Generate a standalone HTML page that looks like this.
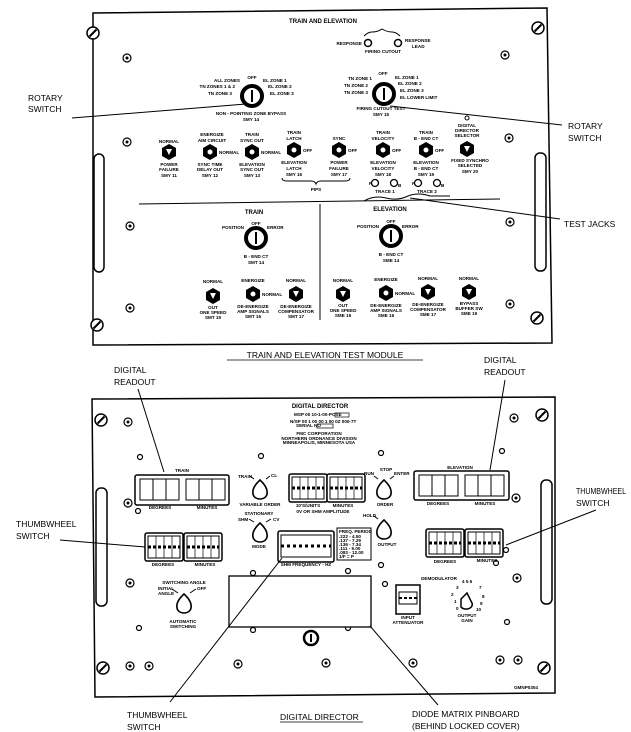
<!DOCTYPE html>
<html><head><meta charset="utf-8"><style>
html,body{margin:0;padding:0;background:#fff}
svg{display:block}
text{font-family:"Liberation Sans",sans-serif;font-weight:bold;fill:#000}
.t{font-size:4.6px}
.m{font-size:6px}
.L{font-size:8.5px;font-weight:normal}
</style></head><body>
<svg width="631" height="732" viewBox="0 0 631 732" xmlns="http://www.w3.org/2000/svg">
<defs>
<g id="sc"><circle r="4" fill="#fff" stroke="#000" stroke-width="1.2"/><circle r="1.5" fill="#000"/></g>
<g id="sl"><circle r="6" fill="#fff" stroke="#000" stroke-width="1.5"/><line x1="-3.5" y1="3.5" x2="3.5" y2="-3.5" stroke="#000" stroke-width="2"/></g>
<g id="hx"><polygon points="0,-8 7,-4 7,4 0,8 -7,4 -7,-4" fill="#000"/><circle r="3" fill="#fff" stroke="#000"/></g>
<g id="hv"><polygon points="0,-8 7,-4 7,4 0,8 -7,4 -7,-4" fill="#000"/><path d="M-3,-3 L0,3 L3,-3 Z" fill="#fff"/></g>
<g id="rot"><circle r="10" fill="#fff" stroke="#000" stroke-width="4"/><line x1="0" y1="-6" x2="0" y2="6" stroke="#000" stroke-width="2"/></g>
<g id="td"><path d="M0,-9 C-11,1 -8,10 0,10 C8,10 11,1 0,-9 Z" fill="#fff" stroke="#000" stroke-width="1.6"/></g>
<g id="tw"><rect x="0" y="0" width="38" height="28" rx="2" fill="#fff" stroke="#000" stroke-width="1.5"/><rect x="3" y="3" width="32" height="22" fill="none" stroke="#000"/><line x1="3" y1="14" x2="35" y2="14" stroke="#000" stroke-width="3" stroke-dasharray="3,2"/><line x1="11" y1="3" x2="11" y2="25" stroke="#000" stroke-width=".7"/><line x1="19" y1="3" x2="19" y2="25" stroke="#000" stroke-width=".7"/><line x1="27" y1="3" x2="27" y2="25" stroke="#000" stroke-width=".7"/></g>
</defs>

<polygon points="93,13 547,8 552,343 93,345" fill="#fff" stroke="#000" stroke-width="1.5"/>
<text x="323" y="23" class="m" text-anchor="middle" font-size="7">TRAIN AND ELEVATION</text>
<use href="#sl" x="93" y="33"/><use href="#sl" x="538" y="28"/><use href="#sl" x="97" y="325"/><use href="#sl" x="537" y="318"/>
<use href="#sc" x="127" y="58"/><use href="#sc" x="505" y="55"/><use href="#sc" x="127" y="142"/><use href="#sc" x="509" y="138"/>
<use href="#sc" x="130" y="226"/><use href="#sc" x="510" y="222"/><use href="#sc" x="130" y="308"/><use href="#sc" x="510" y="304"/>
<rect x="94" y="154" width="10" height="118" rx="5" fill="#fff" stroke="#000" stroke-width="1.5"/>
<rect x="535" y="153" width="11" height="118" rx="5" fill="#fff" stroke="#000" stroke-width="1.5"/>

<path d="M364,36 q4,-4 8,-4 q5,0 10,-3 q5,3 10,3 q4,0 8,4" fill="none" stroke="#000"/>
<circle cx="368" cy="43" r="3.5" fill="#fff" stroke="#000" stroke-width="1.5"/><circle cx="398" cy="43" r="3.5" fill="#fff" stroke="#000" stroke-width="1.5"/>
<text x="362" y="45" class="t" text-anchor="end">RESPONSE</text><text x="405" y="42" class="t">RESPONSE</text><text x="412" y="48" class="t">LEAD</text>
<text x="383" y="53" class="t" text-anchor="middle">FIRING CUTOUT</text>

<use href="#rot" x="252" y="96"/>
<text x="252" y="79" class="t" text-anchor="middle">OFF</text>
<text x="240" y="82" class="t" text-anchor="end">ALL ZONES</text><text x="235" y="88" class="t" text-anchor="end">TN ZONES 1 &amp; 2</text><text x="232" y="95" class="t" text-anchor="end">TN ZONE 3</text>
<text x="263" y="82" class="t">EL ZONE 1</text><text x="268" y="88" class="t">EL ZONE 2</text><text x="270" y="95" class="t">EL ZONE 3</text>
<text x="251" y="115" class="t" text-anchor="middle">NON - POINTING ZONE BYPASS</text><text x="251" y="121" class="t" text-anchor="middle">SMY 14</text>
<use href="#rot" x="384" y="94"/>
<text x="383" y="75" class="t" text-anchor="middle">OFF</text>
<text x="372" y="80" class="t" text-anchor="end">TN ZONE 1</text><text x="368" y="87" class="t" text-anchor="end">TN ZONE 2</text><text x="368" y="94" class="t" text-anchor="end">TN ZONE 3</text>
<text x="395" y="79" class="t">EL ZONE 1</text><text x="398" y="85" class="t">EL ZONE 2</text><text x="400" y="92" class="t">EL ZONE 3</text><text x="400" y="99" class="t">EL LOWER LIMIT</text>
<text x="381" y="110" class="t" text-anchor="middle">FIRING CUTOUT TEST</text><text x="381" y="116" class="t" text-anchor="middle">SMY 15</text>

<use href="#hv" x="169" y="152"/><text x="169" y="143" class="t" text-anchor="middle">NORMAL</text>
<text x="169" y="166" class="t" text-anchor="middle">POWER</text><text x="169" y="171" class="t" text-anchor="middle">FAILURE</text><text x="169" y="177" class="t" text-anchor="middle">SMY 11</text>
<use href="#hx" x="210" y="152"/><text x="212" y="136" class="t" text-anchor="middle">ENERGIZE</text><text x="212" y="142" class="t" text-anchor="middle">AIM CIRCUIT</text><text x="219" y="154" class="t">NORMAL</text>
<text x="210" y="166" class="t" text-anchor="middle">SYNC TIME</text><text x="210" y="171" class="t" text-anchor="middle">DELAY OUT</text><text x="210" y="177" class="t" text-anchor="middle">SMY 12</text>
<use href="#hx" x="252" y="152"/><text x="252" y="136" class="t" text-anchor="middle">TRAIN</text><text x="252" y="142" class="t" text-anchor="middle">SYNC OUT</text><text x="261" y="154" class="t">NORMAL</text>
<text x="252" y="166" class="t" text-anchor="middle">ELEVATION</text><text x="252" y="171" class="t" text-anchor="middle">SYNC OUT</text><text x="252" y="177" class="t" text-anchor="middle">SMY 13</text>
<use href="#hx" x="294" y="150"/><text x="294" y="134" class="t" text-anchor="middle">TRAIN</text><text x="294" y="140" class="t" text-anchor="middle">LATCH</text><text x="303" y="152" class="t">OFF</text>
<text x="294" y="164" class="t" text-anchor="middle">ELEVATION</text><text x="294" y="170" class="t" text-anchor="middle">LATCH</text><text x="294" y="176" class="t" text-anchor="middle">SMY 16</text>
<use href="#hx" x="339" y="150"/><text x="339" y="140" class="t" text-anchor="middle">SYNC</text><text x="348" y="152" class="t">OFF</text>
<text x="339" y="164" class="t" text-anchor="middle">POWER</text><text x="339" y="170" class="t" text-anchor="middle">FAILURE</text><text x="339" y="176" class="t" text-anchor="middle">SMY 17</text>
<path d="M282,178 q0,3 5,3 l24,0 q4,0 5,3 q1,-3 5,-3 l24,0 q5,0 5,-3" fill="none" stroke="#000"/><text x="316" y="191" class="t" text-anchor="middle">PIPS</text>
<use href="#hx" x="383" y="150"/><text x="383" y="134" class="t" text-anchor="middle">TRAIN</text><text x="383" y="140" class="t" text-anchor="middle">VELOCITY</text><text x="392" y="152" class="t">OFF</text>
<text x="383" y="164" class="t" text-anchor="middle">ELEVATION</text><text x="383" y="170" class="t" text-anchor="middle">VELOCITY</text><text x="383" y="176" class="t" text-anchor="middle">SMY 18</text>
<use href="#hx" x="426" y="150"/><text x="426" y="134" class="t" text-anchor="middle">TRAIN</text><text x="426" y="140" class="t" text-anchor="middle">B - END CT</text><text x="435" y="152" class="t">OFF</text>
<text x="426" y="164" class="t" text-anchor="middle">ELEVATION</text><text x="426" y="170" class="t" text-anchor="middle">B - END CT</text><text x="426" y="176" class="t" text-anchor="middle">SMY 19</text>
<use href="#hv" x="467" y="149"/><circle cx="467" cy="118" r="2" fill="#fff" stroke="#000"/>
<text x="467" y="127" class="t" text-anchor="middle">DIGITAL</text><text x="467" y="132" class="t" text-anchor="middle">DIRECTOR</text><text x="467" y="137" class="t" text-anchor="middle">SELECTOR</text>
<text x="470" y="162" class="t" text-anchor="middle">FIXED SYNCHRO</text><text x="470" y="167" class="t" text-anchor="middle">SELECTED</text><text x="470" y="173" class="t" text-anchor="middle">SMY 20</text>
<g fill="#fff" stroke="#000" stroke-width="1.3"><circle cx="375" cy="183" r="3.5"/><circle cx="394" cy="183" r="3.5"/><circle cx="418" cy="183" r="3.5"/><circle cx="437" cy="183" r="3.5"/></g>
<text x="369" y="185" class="t">R</text><text x="398" y="187" class="t">B</text><text x="412" y="185" class="t">R</text><text x="441" y="187" class="t">B</text>
<text x="385" y="193" class="t" text-anchor="middle">TRACE 1</text><text x="427" y="193" class="t" text-anchor="middle">TRACE 2</text>
<path d="M364,201 q10,-6 22,-3 q12,3 22,-2 q10,-4 22,0 l20,0" fill="none" stroke="#000"/>

<line x1="139" y1="204" x2="500" y2="199" stroke="#000" stroke-width="1"/>
<line x1="320" y1="204" x2="320" y2="320" stroke="#000"/>
<text x="254" y="214" class="m" text-anchor="middle" font-size="7">TRAIN</text>
<text x="390" y="211" class="m" text-anchor="middle" font-size="7">ELEVATION</text>
<use href="#rot" x="256" y="238"/><text x="256" y="225" class="t" text-anchor="middle">OFF</text>
<text x="244" y="229" class="t" text-anchor="end">POSITION</text><text x="267" y="229" class="t">ERROR</text>
<text x="256" y="258" class="t" text-anchor="middle">B - END CT</text><text x="256" y="264" class="t" text-anchor="middle">SMT 14</text>
<use href="#rot" x="391" y="236"/><text x="391" y="223" class="t" text-anchor="middle">OFF</text>
<text x="379" y="228" class="t" text-anchor="end">POSITION</text><text x="402" y="228" class="t">ERROR</text>
<text x="391" y="256" class="t" text-anchor="middle">B - END CT</text><text x="391" y="262" class="t" text-anchor="middle">SME 14</text>

<use href="#hv" x="213" y="296"/><text x="213" y="283" class="t" text-anchor="middle">NORMAL</text><text x="213" y="309" class="t" text-anchor="middle">OUT</text><text x="213" y="314" class="t" text-anchor="middle">ONE SPEED</text><text x="213" y="319" class="t" text-anchor="middle">SMT 15</text>
<use href="#hx" x="253" y="294"/><text x="253" y="282" class="t" text-anchor="middle">ENERGIZE</text><text x="262" y="296" class="t">NORMAL</text><text x="253" y="308" class="t" text-anchor="middle">DE-ENERGIZE</text><text x="253" y="313" class="t" text-anchor="middle">AMP SIGNALS</text><text x="253" y="318" class="t" text-anchor="middle">SMT 16</text>
<use href="#hv" x="296" y="294"/><text x="296" y="282" class="t" text-anchor="middle">NORMAL</text><text x="296" y="308" class="t" text-anchor="middle">DE-ENERGIZE</text><text x="296" y="313" class="t" text-anchor="middle">COMPENSATOR</text><text x="296" y="318" class="t" text-anchor="middle">SMT 17</text>
<use href="#hv" x="343" y="294"/><text x="343" y="282" class="t" text-anchor="middle">NORMAL</text><text x="343" y="307" class="t" text-anchor="middle">OUT</text><text x="343" y="312" class="t" text-anchor="middle">ONE SPEED</text><text x="343" y="317" class="t" text-anchor="middle">SME 15</text>
<use href="#hx" x="386" y="293"/><text x="386" y="281" class="t" text-anchor="middle">ENERGIZE</text><text x="395" y="295" class="t">NORMAL</text><text x="386" y="307" class="t" text-anchor="middle">DE-ENERGIZE</text><text x="386" y="312" class="t" text-anchor="middle">AMP SIGNALS</text><text x="386" y="317" class="t" text-anchor="middle">SME 16</text>
<use href="#hv" x="428" y="292"/><text x="428" y="280" class="t" text-anchor="middle">NORMAL</text><text x="428" y="306" class="t" text-anchor="middle">DE-ENERGIZE</text><text x="428" y="311" class="t" text-anchor="middle">COMPENSATOR</text><text x="428" y="316" class="t" text-anchor="middle">SME 17</text>
<use href="#hv" x="469" y="292"/><text x="469" y="280" class="t" text-anchor="middle">NORMAL</text><text x="469" y="305" class="t" text-anchor="middle">BYPASS</text><text x="469" y="310" class="t" text-anchor="middle">BUFFER SW</text><text x="469" y="315" class="t" text-anchor="middle">SME 19</text>

<text x="28" y="101" class="L">ROTARY</text><text x="28" y="112" class="L">SWITCH</text>
<line x1="72" y1="118" x2="246" y2="104" stroke="#000"/>
<text x="568" y="129" class="L">ROTARY</text><text x="568" y="141" class="L">SWITCH</text>
<line x1="390" y1="106" x2="562" y2="125" stroke="#000"/>
<text x="564" y="227" class="L">TEST JACKS</text>
<line x1="410" y1="198" x2="560" y2="219" stroke="#000"/>
<text x="325" y="358" class="L" text-anchor="middle" font-weight="bold" font-size="8">TRAIN AND ELEVATION TEST MODULE</text>
<line x1="227" y1="360" x2="423" y2="360" stroke="#000" stroke-width=".8"/>

<polygon points="92,399 555,397 555,693 95,697" fill="#fff" stroke="#000" stroke-width="1.5"/>
<use href="#sl" x="101" y="420"/><use href="#sl" x="542" y="415"/><use href="#sl" x="103" y="668"/><use href="#sl" x="544" y="668"/>
<rect x="96" y="488" width="11" height="118" rx="5" fill="#fff" stroke="#000" stroke-width="1.5"/>
<rect x="541" y="480" width="11" height="124" rx="5" fill="#fff" stroke="#000" stroke-width="1.5"/>
<g><use href="#sc" x="128" y="422"/><use href="#sc" x="514" y="418"/><use href="#sc" x="128" y="503"/><use href="#sc" x="516" y="498"/>
<use href="#sc" x="130" y="583"/><use href="#sc" x="517" y="578"/><use href="#sc" x="130" y="666"/><use href="#sc" x="149" y="666"/>
<use href="#sc" x="238" y="664"/><use href="#sc" x="326" y="663"/><use href="#sc" x="413" y="663"/><use href="#sc" x="500" y="660"/><use href="#sc" x="518" y="660"/></g>
<g fill="#fff" stroke="#000" stroke-width="1.2"><circle cx="140" cy="457" r="2.5"/><circle cx="261" cy="456" r="2.5"/><circle cx="381" cy="453" r="2.5"/><circle cx="502" cy="451" r="2.5"/>
<circle cx="138" cy="511" r="2.5"/><circle cx="381" cy="565" r="2.5"/><circle cx="506" cy="550" r="2.5"/><circle cx="496" cy="563" r="2.5"/>
<circle cx="139" cy="628" r="2.5"/><circle cx="253" cy="573" r="2.5"/><circle cx="348" cy="571" r="2.5"/><circle cx="253" cy="630" r="2.5"/><circle cx="348" cy="628" r="2.5"/><circle cx="507" cy="622" r="2.5"/><circle cx="385" cy="584" r="2.5"/></g>
<text x="320" y="408" class="m" text-anchor="middle">DIGITAL DIRECTOR</text>
<g class="t" font-size="3.5"><text x="294" y="416">MSP 00 10-1-00-POSE</text><rect x="335" y="413" width="14" height="4" fill="none" stroke="#000" stroke-width=".7"/>
<text x="290" y="423">N/SP 00 1 00 00 1 00 0Z 000-7T</text><text x="296" y="427">SERIAL NO</text><rect x="317" y="424" width="16" height="4" fill="none" stroke="#000" stroke-width=".7"/>
<text x="319" y="435" text-anchor="middle">FMC CORPORATION</text><text x="319" y="440" text-anchor="middle">NORTHERN ORDNANCE DIVISION</text><text x="319" y="444" text-anchor="middle">MINNEAPOLIS, MINNESOTA USA</text></g>

<text x="182" y="472" class="t" text-anchor="middle" font-size="5.5">TRAIN</text>
<rect x="135" y="475" width="94" height="30" rx="2" fill="#fff" stroke="#000" stroke-width="1.5"/>
<g fill="none" stroke="#000"><rect x="140" y="479" width="39" height="21"/><line x1="153" y1="479" x2="153" y2="500"/><line x1="166" y1="479" x2="166" y2="500"/><rect x="186" y="479" width="39" height="21"/><line x1="199" y1="479" x2="199" y2="500"/><line x1="212" y1="479" x2="212" y2="500"/></g>
<text x="160" y="509" class="t" text-anchor="middle">DEGREES</text><text x="207" y="509" class="t" text-anchor="middle">MINUTES</text>
<text x="460" y="469" class="t" text-anchor="middle" font-size="5.5">ELEVATION</text>
<rect x="414" y="471" width="95" height="29" rx="2" fill="#fff" stroke="#000" stroke-width="1.5"/>
<g fill="none" stroke="#000"><rect x="419" y="475" width="39" height="21"/><line x1="432" y1="475" x2="432" y2="496"/><line x1="445" y1="475" x2="445" y2="496"/><rect x="465" y="475" width="39" height="21"/><line x1="478" y1="475" x2="478" y2="496"/><line x1="491" y1="475" x2="491" y2="496"/></g>
<text x="438" y="505" class="t" text-anchor="middle">DEGREES</text><text x="485" y="505" class="t" text-anchor="middle">MINUTES</text>

<use href="#tw" x="145" y="533"/><use href="#tw" x="184" y="533"/><text x="163" y="566" class="t" text-anchor="middle">DEGREES</text><text x="205" y="566" class="t" text-anchor="middle">MINUTES</text>
<use href="#tw" x="426" y="529"/><use href="#tw" x="465" y="529"/><text x="445" y="563" class="t" text-anchor="middle">DEGREES</text><text x="487" y="562" class="t" text-anchor="middle">MINUTES</text>
<use href="#tw" x="289" y="474"/><use href="#tw" x="327" y="474"/>
<text x="308" y="507" class="t" text-anchor="middle">10'S/UNITS</text><text x="343" y="507" class="t" text-anchor="middle">MINUTES</text><text x="323" y="513" class="t" text-anchor="middle">0V OR SHM AMPLITUDE</text>
<rect x="278" y="531" width="56" height="31" rx="2" fill="#fff" stroke="#000" stroke-width="1.5"/>
<rect x="281" y="535" width="50" height="22" fill="none" stroke="#000"/><line x1="281" y1="546" x2="331" y2="546" stroke="#000" stroke-width="3" stroke-dasharray="3,3"/>
<text x="306" y="566" class="t" text-anchor="middle">SHM FREQUENCY - HZ</text>
<rect x="337" y="528" width="34" height="32" fill="#fff" stroke="#000"/>
<g class="t" font-size="3.8"><text x="339" y="533">FREQ. PERIOD</text><text x="339" y="538">.222  -  4.50</text><text x="339" y="542">.137  -  7.29</text><text x="339" y="546">.136  -  7.34</text><text x="339" y="550">.111  -  9.00</text><text x="339" y="554">.083  -  12.00</text><text x="339" y="558">1/F  =  P</text></g>

<use href="#td" x="260" y="489"/><path d="M254,479 l-4,-3 M266,479 l4,-3" stroke="#000"/><text x="238" y="478" class="t">TRAIN</text><text x="271" y="477" class="t">CL</text><text x="260" y="506" class="t" text-anchor="middle">VARIABLE ORDER</text>
<use href="#td" x="260" y="532"/><path d="M254,522 l-5,-3 M266,522 l5,-3" stroke="#000"/><text x="259" y="515" class="t" text-anchor="middle">STATIONARY</text><text x="238" y="521" class="t">SHM</text><text x="273" y="521" class="t">CV</text><text x="259" y="548" class="t" text-anchor="middle">MODE</text>
<use href="#td" x="384" y="489"/><path d="M378,479 l-4,-3 M390,479 l4,-3" stroke="#000"/><text x="386" y="471" class="t" text-anchor="middle">STOP</text><text x="364" y="475" class="t">RUN</text><text x="394" y="475" class="t">ENTER</text><text x="385" y="506" class="t" text-anchor="middle">ORDER</text>
<use href="#td" x="384" y="529"/><path d="M378,519 l-4,-3" stroke="#000"/><text x="363" y="517" class="t">HOLD</text><text x="387" y="546" class="t" text-anchor="middle">OUTPUT</text>
<use href="#td" x="184" y="603"/><path d="M178,593 l-6,-4 M190,593 l6,-4" stroke="#000"/><text x="184" y="584" class="t" text-anchor="middle">SWITCHING ANGLE</text><text x="158" y="590" class="t">INITIAL</text><text x="158" y="595" class="t">ANGLE</text><text x="197" y="590" class="t">OFF</text>
<text x="183" y="623" class="t" text-anchor="middle">AUTOMATIC</text><text x="183" y="628" class="t" text-anchor="middle">SWITCHING</text>

<rect x="229" y="576" width="142" height="51" fill="#fff" stroke="#000" stroke-width="1.3"/>
<circle cx="311" cy="638" r="7" fill="#fff" stroke="#000" stroke-width="2.5"/><line x1="311" y1="634" x2="311" y2="642" stroke="#000" stroke-width="2"/>

<text x="439" y="580" class="t" text-anchor="middle" font-size="5.5">DEMODULATOR</text>
<rect x="396" y="585" width="24" height="29" fill="#fff" stroke="#000" stroke-width="1.5"/><rect x="399" y="592" width="18" height="12" fill="none" stroke="#000"/><line x1="399" y1="598" x2="417" y2="598" stroke="#000" stroke-width="2" stroke-dasharray="3,2"/>
<text x="408" y="619" class="t" text-anchor="middle">INPUT</text><text x="408" y="624" class="t" text-anchor="middle">ATTENUATOR</text>
<path d="M461,599 l6,-6 l5,10 c2,6 -8,8 -11,4 z" fill="#fff" stroke="#000" stroke-width="1.5"/>
<g class="t" font-size="3.8"><text x="462" y="583">4 5 6</text><text x="456" y="589">3</text><text x="479" y="589">7</text><text x="451" y="596">2</text><text x="482" y="598">8</text><text x="454" y="603">1</text><text x="480" y="605">9</text><text x="456" y="610">0</text><text x="476" y="611">10</text></g>
<text x="467" y="617" class="t" text-anchor="middle">OUTPUT</text><text x="467" y="622" class="t" text-anchor="middle">GAIN</text>
<text x="526" y="689" class="t" font-weight="normal" font-size="6" text-anchor="middle">GMNP0304</text>

<text x="114" y="373" class="L">DIGITAL</text><text x="114" y="385" class="L">READOUT</text>
<line x1="138" y1="389" x2="164" y2="472" stroke="#000"/>
<text x="484" y="363" class="L">DIGITAL</text><text x="484" y="375" class="L">READOUT</text>
<line x1="505" y1="380" x2="490" y2="470" stroke="#000"/>
<text x="16" y="527" class="L">THUMBWHEEL</text><text x="16" y="539" class="L">SWITCH</text>
<line x1="60" y1="540" x2="145" y2="547" stroke="#000"/>
<text x="576" y="494" class="L" font-size="7.5" textLength="50" lengthAdjust="spacingAndGlyphs">THUMBWHEEL</text><text x="576" y="506" class="L" font-size="7.5">SWITCH</text>
<line x1="596" y1="510" x2="506" y2="545" stroke="#000"/>
<line x1="282" y1="558" x2="170" y2="702" stroke="#000"/>
<line x1="370" y1="626" x2="438" y2="705" stroke="#000"/>
<text x="127" y="718" class="L">THUMBWHEEL</text><text x="127" y="730" class="L">SWITCH</text>
<text x="280" y="720" class="L" font-weight="bold" font-size="8">DIGITAL DIRECTOR</text><line x1="280" y1="722" x2="363" y2="722" stroke="#000" stroke-width=".8"/>
<text x="412" y="717" class="L">DIODE MATRIX PINBOARD</text><text x="412" y="729" class="L">(BEHIND LOCKED COVER)</text>
</svg>
</body></html>
